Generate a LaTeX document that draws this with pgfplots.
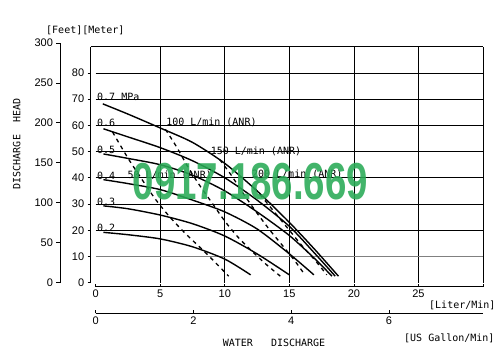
\documentclass[border=0pt]{standalone}
\usepackage{pgfplots}
\pgfplotsset{compat=1.18}
\usepackage{fontspec}
\setmainfont{DejaVu Sans Mono}
\newfontfamily\tickfont{Liberation Sans}
\newcommand\fs{\fontsize{10bp}{12bp}\selectfont}
\newcommand\tickfs{\tickfont\fontsize{11bp}{13bp}\selectfont}
\definecolor{wmgreen}{RGB}{40,170,85}
\pgfplotsset{
  myticks/.style={
    /pgf/number format/assume math mode=true,
    ticklabel style={font=\tickfs},
    tick style={black, line width=0.8bp},
    axis line style={-, black, line width=0.8bp},
    scale only axis, clip=false,
  },
  pcurve/.style={black, line width=1.4bp, smooth, tension=0.45, mark=none},
  acurve/.style={black, line width=1.3bp, dash pattern=on 4bp off 4bp, smooth, tension=0.45, mark=none},
}
\begin{document}
\begin{tikzpicture}
\useasboundingbox (0bp,0bp) rectangle (503bp,364bp);

% feet axis
\begin{axis}[myticks, at={(60bp,81.3bp)}, anchor=south west, width=10bp, height=239.75bp,
  xmin=0, xmax=1, ymin=0, ymax=300, axis x line=none, axis y line*=left,
  ytick={0,50,...,300}, tick align=outside, major tick length=3.5bp]
\end{axis}

% meter axis
\begin{axis}[myticks, at={(90.7bp,81.3bp)}, anchor=south west, width=5bp, height=236bp,
  xmin=0, xmax=1, ymin=0, ymax=90, axis x line=none, axis y line*=left,
  ytick={0,10,...,80}, tick align=outside, major tick length=3bp]
\end{axis}

% Liter/min axis
\begin{axis}[myticks, at={(95.7bp,77.3bp)}, anchor=south west, width=387.3bp, height=10bp,
  xmin=0, xmax=30, ymin=0, ymax=1, axis y line=none, axis x line*=bottom,
  xtick={0,5,...,30}, xticklabels={0,5,10,15,20,25,{}}, tick align=inside, major tick length=3bp]
\end{axis}

% US gallon axis
\begin{axis}[myticks, at={(95.7bp,50.7bp)}, anchor=south west, width=387.3bp, height=10bp,
  xmin=0, xmax=7.9252, ymin=0, ymax=1, axis y line=none, axis x line*=bottom,
  xtick={0,2,4,6}, tick align=inside, major tick length=3bp]
\end{axis}

% main chart
\begin{axis}[myticks, at={(95.7bp,81.3bp)}, anchor=south west, width=387.3bp, height=236bp,
  xmin=0, xmax=30, ymin=0, ymax=90,
  axis line style={draw=none}, xtick={5,10,...,30}, ytick={20,30,...,90},
  xticklabels={}, yticklabels={}, major tick length=0pt,
  grid=major, grid style={black, line width=0.8bp}]
\draw[gray, line width=0.8bp] (axis cs:0,10) -- (axis cs:30,10);
\draw[black, line width=0.8bp] (axis cs:-0.39,90) -- (axis cs:0,90);

% pressure curves
\addplot[pcurve] coordinates {(0.55,68.2) (2.5,64.3) (5,59) (7.5,53.5) (10,45.5) (12.5,35) (15,23) (17,12.5) (18.8,2.5)};
\addplot[pcurve] coordinates {(0.6,58.7) (2.5,55.6) (5,51.5) (7.5,46.5) (10,40) (12.5,31.5) (15,21.5) (17,11) (18.55,2.5)};
\addplot[pcurve] coordinates {(0.6,49.1) (2.5,47.4) (5,45) (7.5,41) (10,35) (12.5,27) (15,18) (17,9) (18.3,2.5)};
\addplot[pcurve] coordinates {(0.6,39.3) (2.5,37.8) (5,35.5) (7.5,31.5) (10,27) (12.5,20.5) (15,11) (16.9,3)};
\addplot[pcurve] coordinates {(0.6,29.3) (2.5,28.2) (5,25.8) (7.5,22.5) (10,17.8) (12.5,11) (15,3)};
\addplot[pcurve] coordinates {(0.6,19.2) (2.5,18.3) (5,16.7) (7.5,13.7) (10,9) (12,3)};

% air consumption curves
\addplot[acurve] coordinates {(1.3,57.5) (2.5,47.5) (3.5,40) (4.6,32) (5.75,25) (7,18.5) (8.5,11.5) (10.3,2.5)};
\addplot[acurve] coordinates {(5.4,58.5) (6.3,51.5) (7.1,44.5) (8,37.5) (9,30.5) (10,23.5) (11,17.5) (12,12.5) (13.2,7) (14.3,2.5)};
\addplot[acurve] coordinates {(9.6,47) (10.5,41) (11.5,33.5) (12.5,26.5) (13.5,20) (14.5,14) (15.4,8.5) (16.2,3)};
\addplot[acurve] coordinates {(12.3,36) (13,32) (14,26) (15,20) (16,14) (17,8.5) (17.9,3)};

% labels
\node[anchor=base west, inner sep=0, font=\fs] at (axis cs:0.1,69.4) {0.7 MPa};
\node[anchor=base west, inner sep=0, font=\fs] at (axis cs:0.1,59.5) {0.6};
\node[anchor=base west, inner sep=0, font=\fs] at (axis cs:0.1,49.4) {0.5};
\node[anchor=base west, inner sep=0, font=\fs] at (axis cs:0.1,39.3) {0.4};
\node[anchor=base west, inner sep=0, font=\fs] at (axis cs:0.1,29.6) {0.3};
\node[anchor=base west, inner sep=0, font=\fs] at (axis cs:0.1,19.5) {0.2};
\node[anchor=base west, inner sep=0, font=\fs] at (axis cs:5.45,60.1) {100 L/min (ANR)};
\node[anchor=base west, inner sep=0, font=\fs] at (axis cs:8.9,48.7) {150 L/min (ANR)};
\node[anchor=base west, inner sep=0, font=\fs] at (axis cs:2.45,39.8) {50 L/min (ANR)};
\node[anchor=base west, inner sep=0, font=\fs] at (axis cs:12.1,40) {200 L/min (ANR)};
\end{axis}

% outer texts
\node[anchor=west, inner sep=0, font=\fs] at (46bp,334bp) {[Feet][Meter]};
\node[rotate=90, inner sep=0, font=\fs] at (16.7bp,220bp) {DISCHARGE\ \ HEAD};
\node[anchor=west, inner sep=0, font=\fs] at (222.7bp,21bp) {WATER\ \ \ DISCHARGE};
\node[anchor=west, inner sep=0, font=\fs] at (429bp,59bp) {[Liter/Min]};
\node[anchor=west, inner sep=0, font=\fs] at (404bp,26bp) {[US Gallon/Min]};

% watermark
\node[inner sep=0, text=wmgreen, opacity=0.88, xscale=0.74,
  font=\tickfont\bfseries\fontsize{52bp}{52bp}\selectfont] at (250.5bp,182.3bp) {0917.186.669};
\end{tikzpicture}
\end{document}
